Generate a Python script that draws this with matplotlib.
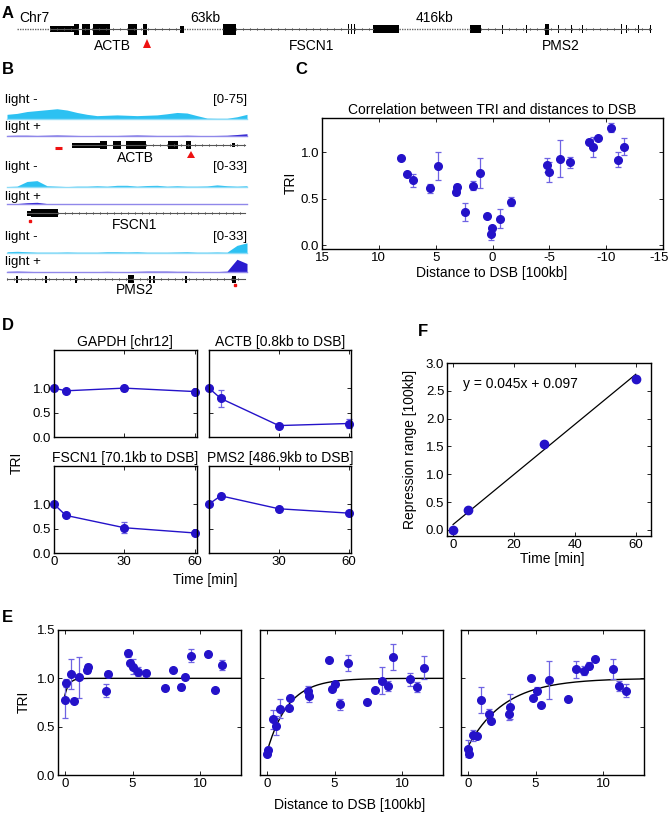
import numpy as np
import matplotlib
matplotlib.use("Agg")
from matplotlib import pyplot as plt
from matplotlib.patches import Rectangle, Polygon
from matplotlib.transforms import ScaledTranslation

plt.rcParams['font.family'] = ['Liberation Sans', 'DejaVu Sans']
plt.rcParams['font.size'] = 10
plt.rcParams['axes.unicode_minus'] = False

W, H = 670, 815
BLUE = '#2412c9'
ERR = '#6f63e3'
CYAN = '#2cc1f2'
PLUS = '#2a1ccf'
FS = 10      # labels / titles
TS = 9.5     # tick labels

# ---- panel C: TRI vs distance to DSB ----
c_dist = [8.05, 7.49, 6.96, 5.47, 4.77, 3.24, 3.12, 2.42, 1.72, 1.13, 0.51, 0.16, 0.07,
          -0.63, -1.63, -4.77, -5.0, -5.91, -6.79, -8.46, -8.87, -9.31, -10.4, -11.04, -11.57]
c_tri = [0.94, 0.77, 0.70, 0.615, 0.857, 0.577, 0.622, 0.357, 0.64, 0.776, 0.315, 0.126, 0.185,
         0.287, 0.469, 0.864, 0.787, 0.93, 0.895, 1.115, 1.059, 1.16, 1.266, 0.923, 1.063]
c_err = [0, 0, 0.07, 0.05, 0.15, 0.04, 0.04, 0.1, 0.05, 0.16, 0, 0.065, 0,
         0.1, 0.05, 0.08, 0.11, 0.2, 0.06, 0.03, 0.11, 0, 0.05, 0.08, 0.09]

# ---- panel D: TRI over time ----
d_time = [0, 5, 30, 60]
d_titles = ['GAPDH [chr12]', 'ACTB [0.8kb to DSB]', 'FSCN1 [70.1kb to DSB]', 'PMS2 [486.9kb to DSB]']
d_tri = [[1.0, 0.945, 1.0, 0.93],
         [1.0, 0.79, 0.234, 0.276],
         [1.0, 0.77, 0.517, 0.41],
         [1.0, 1.17, 0.905, 0.816]]
d_err = [[0, 0, 0.05, 0],
         [0, 0.18, 0, 0.1],
         [0, 0, 0.11, 0],
         [0, 0, 0, 0]]

# ---- panel F: repression range ----
f_time = [0, 5, 30, 60]
f_range = [0.0, 0.36, 1.55, 2.72]
f_slope, f_icpt = 0.045, 0.097

# ---- panel E: TRI vs distance per time point ----
e_labels = ['05min', '30min', '60min']
e_x = [[0, 0.12, 0.44, 0.71, 1.05, 1.63, 1.71, 3.05, 3.17, 4.66, 4.83, 5.05, 5.39, 5.98, 7.39,
        7.95, 8.54, 8.9, 9.34, 10.6, 11.1, 11.59],
       [0, 0.07, 0.44, 0.66, 1.0, 1.63, 1.71, 3.02, 3.12, 4.6, 4.8, 5.05, 5.39, 5.98, 7.37,
        7.95, 8.5, 8.93, 9.34, 10.6, 11.1, 11.6],
       [0, 0.07, 0.37, 0.67, 0.99, 1.6, 1.68, 3.01, 3.14, 4.67, 4.84, 5.09, 5.43, 6.0, 7.43,
        8.0, 8.57, 8.96, 9.4, 10.69, 11.19, 11.68]]
e_y = [[0.777, 0.95, 1.04, 0.77, 1.01, 1.086, 1.12, 0.873, 1.05, 1.257, 1.157, 1.12, 1.07, 1.055,
        0.897, 1.086, 0.914, 1.01, 1.236, 1.247, 0.88, 1.137],
       [0.22, 0.257, 0.575, 0.51, 0.685, 0.695, 0.795, 0.873, 0.818, 1.19, 0.89, 0.94, 0.73, 1.157,
        0.753, 0.88, 0.976, 0.92, 1.223, 0.99, 0.907, 1.11],
       [0.274, 0.22, 0.41, 0.40, 0.774, 0.634, 0.558, 0.627, 0.705, 1.007, 0.80, 0.873, 0.726, 0.983,
        0.788, 1.092, 1.08, 1.13, 1.2, 1.10, 0.918, 0.873]]
e_err = [[0.19, 0.04, 0.155, 0, 0.21, 0.03, 0.03, 0.07, 0.03, 0.04, 0, 0.08, 0.05, 0.03, 0.02,
          0, 0.03, 0, 0.07, 0.03, 0, 0.05],
         [0, 0, 0.1, 0.1, 0.1, 0, 0, 0.05, 0.06, 0, 0, 0, 0.055, 0.085, 0, 0, 0.14, 0.05, 0.135,
          0.07, 0.05, 0.12],
         [0.09, 0, 0.06, 0, 0.137, 0.05, 0, 0.06, 0.13, 0, 0, 0.035, 0, 0.197, 0, 0.09, 0.05,
          0.035, 0, 0.105, 0.05, 0.07]]
# fitted saturation curves: TRI = 1 - amp * exp(-d / range)
e_amp = [0.18, 0.77, 0.71]
e_len = [0.3, 1.55, 2.72]

# ---- panel B: coverage tracks (sampled every 10 px of the browser view) ----
trk_x = np.arange(7, 248, 10)
trk_minus = [[25, 30, 40, 45, 50, 55, 48, 35, 25, 18, 20, 22, 20, 18, 20, 22, 28, 35, 32, 18, 5, 4, 4, 12, 25],
             [1, 2, 13, 15, 3, 2, 1, 2, 2, 3, 2, 4, 4, 2, 3.5, 4, 2, 3, 2, 2, 2.5, 5, 3, 2, 3],
             [3, 4, 3, 2, 2, 2, 2.5, 2, 2, 2, 3, 3, 2.5, 3, 2, 2, 2, 2.5, 3, 2, 2, 2.5, 2, 18, 24]]
trk_plus = [[3, 4, 4, 3, 4, 5, 4, 3, 2, 3, 3, 3, 4, 5, 4, 3, 3, 3, 4, 3, 2, 3, 4, 8, 12],
            [0.5, 1, 3, 4, 1, 0.5, 0.5, 0.8, 0.5, 0.5, 0.8, 1, 0.5, 0.8, 1, 0.5, 0.8, 0.5, 0.5, 1,
             0.5, 0.8, 0.5, 0.5, 0.8],
            [1.5, 2, 1.5, 1, 1, 1, 1, 1, 1, 1, 1.5, 1, 1, 1.5, 2, 2, 2, 1.5, 1.5, 1, 1, 1, 2, 30, 20]]
trk_range = [75, 33, 33]


def box(l, t, r, b):
    return [l / W, 1 - b / H, (r - l) / W, (b - t) / H]


def style(ax):
    ax.tick_params(direction='in', top=True, right=True, length=3, width=0.6,
                   labelsize=TS, pad=2)
    for s in ax.spines.values():
        s.set_linewidth(1.0)


def gene(ax, y, x0, x1, exons, tick_from=None, dotted=False):
    ax.plot([x0, x1], [y, y], color='#555555', lw=0.8, ls=':' if dotted else '-')
    start = x0 if tick_from is None else tick_from
    for t in np.arange(start, x1, 7):
        ax.plot([t, t], [y - 1.3, y + 1.3], color='#555555', lw=0.5)
    for a, b, h in exons:
        ax.add_patch(Rectangle((a, y - h), b - a, 2 * h, color='black', lw=0))


fig = plt.figure(figsize=(W / 100, H / 100), dpi=100)

# overlay in pixel coordinates for schematic panels and labels
ov = fig.add_axes([0, 0, 1, 1])
ov.set_xlim(0, W)
ov.set_ylim(H, 0)
ov.axis('off')

# ---------- panel A ----------
ov.text(2, 14, 'A', fontsize=12, fontweight='bold', va='center')
ov.text(19, 18, 'Chr7', fontsize=FS, va='center')
ya = 29
for x0, x1 in [(17, 50), (184, 223), (399, 470)]:
    ov.plot([x0, x1], [ya, ya], color='#666666', lw=1.0, ls=(0, (1, 0.8)))
for x0, x1 in [(50, 180), (236, 373), (481, 651)]:
    gene(ov, ya, x0, x1, [])
a_exons = [(50, 74, 3), (74, 79, 5.5), (82, 90, 5.5), (93, 110, 5.5), (128, 137, 5.5), (143, 147, 5.5),
           (180, 184, 3.5), (223, 236, 5.5), (347.5, 348.7, 5), (350.5, 351.7, 5), (353.5, 354.7, 5),
           (373, 399, 4), (470, 481, 4), (501.5, 502.7, 4.5), (525.5, 526.5, 4), (545, 549, 5.5),
           (557.5, 558.5, 4), (570.5, 571.5, 4), (581.5, 582.5, 4), (620.5, 621.7, 5),
           (625.5, 626.5, 4), (637.5, 638.5, 4), (650, 651, 4)]
for a, b, h in a_exons:
    ov.add_patch(Rectangle((a, ya - h), b - a, 2 * h, color='black', lw=0))
ov.text(205, 18, '63kb', fontsize=FS, ha='center', va='center')
ov.text(434, 18, '416kb', fontsize=FS, ha='center', va='center')
ov.text(112, 46, 'ACTB', fontsize=FS, ha='center', va='center')
ov.text(312, 46, 'FSCN1', fontsize=FS, ha='center', va='center')
ov.text(561, 46, 'PMS2', fontsize=FS, ha='center', va='center')
ov.add_patch(Polygon([[143, 48], [151, 48], [147, 39]], color='#ee1111', lw=0))

# ---------- panel B ----------
ov.text(2, 70, 'B', fontsize=12, fontweight='bold', va='center')
minus_base = [119, 187, 253]
plus_base = [136, 204, 272]
minus_lab = [100, 167, 237]
plus_lab = [127, 197, 262]
for i in range(3):
    k = 14.0 / trk_range[i]
    mb, pb = minus_base[i], plus_base[i]
    ov.fill_between(trk_x, mb, mb - np.array(trk_minus[i]) * k, color=CYAN, lw=0)
    ov.plot([7, 247], [mb, mb], color='#8fdcf7', lw=1.0)
    ov.fill_between(trk_x, pb, pb - np.array(trk_plus[i]) * k, color=PLUS, lw=0)
    ov.plot([7, 247], [pb, pb], color='#9088ea', lw=1.0)
    ov.text(5, minus_lab[i], 'light -', fontsize=9.5, va='center')
    ov.text(5, plus_lab[i], 'light +', fontsize=9.5, va='center')
    ov.text(247, minus_lab[i], '[0-%d]' % trk_range[i], fontsize=9.5, va='center', ha='right')

gene(ov, 145, 72, 245, [(72, 100, 2.5), (100, 107, 4), (113, 121, 4), (126, 146, 4),
                        (168, 178, 4), (186, 191, 4), (232, 235, 2)], tick_from=146)
ov.plot([55, 62], [148, 148], color='#ee1111', lw=2.2, solid_capstyle='butt')
ov.add_patch(Polygon([[187, 158], [195, 158], [191, 151]], color='#ee1111', lw=0))
ov.text(135, 158, 'ACTB', fontsize=FS, ha='center', va='center')

gene(ov, 213, 27, 245, [(27, 31, 2.5), (31, 58, 4)], tick_from=58)
ov.plot([30], [221], 's', color='#ee1111', ms=2)
ov.text(135, 225, 'FSCN1', fontsize=FS, ha='center', va='center')

gene(ov, 279, 7, 245, [(16, 18, 3.5), (45, 47, 3.5), (75, 77, 3.5), (128, 134, 4), (149, 151, 3.5),
                       (153, 155, 3.5), (185, 187, 3.5), (232, 236, 3.5)])
ov.plot([235], [285], 's', color='#ee1111', ms=2)
ov.text(135, 290, 'PMS2', fontsize=FS, ha='center', va='center')

# ---------- panel C ----------
ov.text(295, 70, 'C', fontsize=12, fontweight='bold', va='center')
ax = fig.add_axes(box(322, 118, 663, 249))
style(ax)
ax.errorbar(c_dist, c_tri, yerr=c_err, fmt='o', ms=5.5, color=BLUE, ecolor=ERR,
            elinewidth=0.9, capsize=2.5, capthick=0.9, clip_on=False)
ax.set_xlim(15, -15)
ax.set_ylim(-0.04, 1.37)
ax.set_xticks([15, 10, 5, 0, -5, -10, -15])
ax.set_yticks([0, 0.5, 1.0])
ax.set_yticklabels(['0.0', '0.5', '1.0'])
# keep the outer x labels inside the figure
lbls = ax.get_xticklabels()
lbls[-1].set_transform(lbls[-1].get_transform() + ScaledTranslation(-0.04, 0, fig.dpi_scale_trans))
ov.text(492, 110, 'Correlation between TRI and distances to DSB', fontsize=FS, ha='center', va='center')
ov.text(291, 183, 'TRI', fontsize=FS, ha='center', va='center', rotation=90)
ov.text(492, 273, 'Distance to DSB [100kb]', fontsize=FS, ha='center', va='center')

# ---------- panel D ----------
ov.text(2, 325, 'D', fontsize=12, fontweight='bold', va='center')
d_boxes = [(54, 350, 197, 437), (209, 350, 351, 437), (54, 466, 197, 553), (209, 466, 351, 553)]
d_title_xy = [(125, 342), (280, 342), (125, 458), (280, 458)]
for i in range(4):
    ax = fig.add_axes(box(*d_boxes[i]))
    style(ax)
    ax.errorbar(d_time, d_tri[i], yerr=d_err[i], fmt='-o', ms=5.5, lw=1.0, color=BLUE,
                ecolor=ERR, elinewidth=0.9, capsize=2.5, capthick=0.9, clip_on=False)
    ax.set_xlim(0, 61)
    ax.set_ylim(0, 1.78)
    ax.set_xticks([0, 30, 60])
    ax.set_yticks([0, 0.5, 1.0])
    ax.set_yticklabels(['0.0', '0.5', '1.0'] if i % 2 == 0 else [])
    if i < 2:
        ax.set_xticklabels([])
    elif i == 3:
        ax.set_xticklabels(['', '30', '60'])
    ov.text(d_title_xy[i][0], d_title_xy[i][1], d_titles[i], fontsize=FS, ha='center', va='center')
ov.text(17, 463, 'TRI', fontsize=FS, ha='center', va='center', rotation=90)
ov.text(205, 580, 'Time [min]', fontsize=FS, ha='center', va='center')

# ---------- panel F ----------
ov.text(418, 331, 'F', fontsize=12, fontweight='bold', va='center')
ax = fig.add_axes(box(447, 363, 651, 536))
style(ax)
fx = np.array([f_time[0], f_time[-1]])
ax.plot(fx, f_slope * fx + f_icpt, color='black', lw=0.9)
ax.plot(f_time, f_range, 'o', ms=6, color=BLUE, clip_on=False)
ax.set_xlim(-2, 65)
ax.set_ylim(-0.11, 3.0)
ax.set_xticks([0, 20, 40, 60])
ax.set_yticks(np.arange(0, 3.01, 0.5))
ax.set_yticklabels(['%.1f' % v for v in np.arange(0, 3.01, 0.5)])
ax.text(0.08, 0.88, 'y = %.3fx + %.3f' % (f_slope, f_icpt), transform=ax.transAxes,
        fontsize=FS, va='center')
ov.text(410, 449, 'Repression range [100kb]', fontsize=FS, ha='center', va='center', rotation=90)
ov.text(552, 559, 'Time [min]', fontsize=FS, ha='center', va='center')

# ---------- panel E ----------
ov.text(2, 618, 'E', fontsize=12, fontweight='bold', va='center')
e_boxes = [(58, 630, 241, 775), (260, 630, 443, 775), (461, 630, 644, 775)]
e_lab_x = [230, 432, 633]
xs = np.linspace(0, 13, 200)
for i in range(3):
    ax = fig.add_axes(box(*e_boxes[i]))
    style(ax)
    ax.plot(xs, 1 - e_amp[i] * np.exp(-xs / e_len[i]), color='black', lw=1.0)
    ax.errorbar(e_x[i], e_y[i], yerr=e_err[i], fmt='o', ms=5.5, color=BLUE, ecolor=ERR,
                elinewidth=0.9, capsize=2.5, capthick=0.9, clip_on=False)
    ax.set_xlim(-0.5, 13)
    ax.set_ylim(0, 1.5)
    ax.set_xticks([0, 5, 10])
    ax.set_yticks([0, 0.5, 1.0, 1.5])
    ax.set_yticklabels(['0.0', '0.5', '1.0', '1.5'] if i == 0 else [])
    ov.text(e_lab_x[i], 755, e_labels[i], fontsize=FS, ha='right', va='center')
ov.text(24, 702, 'TRI', fontsize=FS, ha='center', va='center', rotation=90)
ov.text(350, 805, 'Distance to DSB [100kb]', fontsize=FS, ha='center', va='center')

fig.savefig('out.png', dpi=100)
